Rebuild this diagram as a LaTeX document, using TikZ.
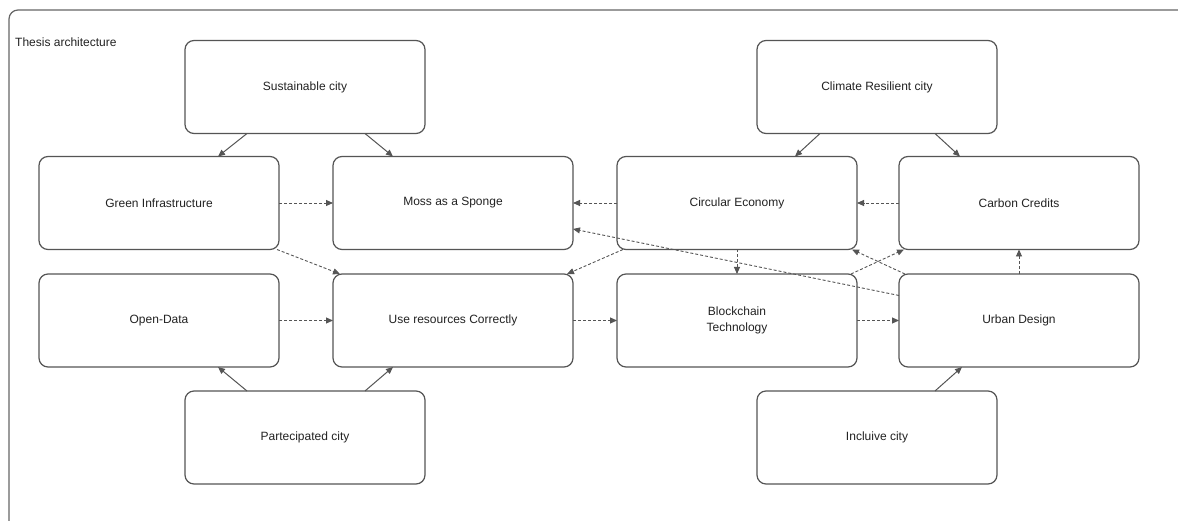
\documentclass[tikz,border=0pt]{standalone}
\usepackage{fontspec}
\setmainfont{Liberation Sans}
\usetikzlibrary{arrows.meta}
\definecolor{edge}{HTML}{555555}
\definecolor{txt}{HTML}{222222}
\definecolor{frame}{HTML}{666666}
\begin{document}
\begin{tikzpicture}[x=1pt,y=-1pt,
  font=\fontsize{12pt}{16pt}\selectfont,
  box/.style={draw=edge, line width=1.2pt, rounded corners=9pt, minimum width=240pt, minimum height=93pt, inner sep=2pt, outer sep=0pt, text=txt, align=center},
  solidarrow/.style={draw=edge, line width=1pt, -{Triangle[length=7pt,width=6pt]}},
  dasharrow/.style={draw=edge, line width=0.9pt, dash pattern=on 3pt off 2pt, -{Triangle[length=7pt,width=6pt]}}
]
\useasboundingbox (0,0) rectangle (1178,521);
\fill[white] (0,0) rectangle (1178,521);
% outer frame (cut off at right and bottom)
\draw[frame, line width=1.2pt, rounded corners=9pt] (9,540) -- (9,10) -- (1200,10);
\node[anchor=west, inner sep=0pt, text=txt] (title) at (15,42) {Thesis architecture};

\node[box] (sus)  at (305,87)    {Sustainable city};
\node[box] (clim) at (877,87)    {Climate Resilient city};
\node[box] (gi)   at (159,203)   {Green Infrastructure};
\node[box] (moss) at (453,203)   {Moss as a Sponge};
\node[box] (circ) at (737,203)   {Circular Economy};
\node[box] (carb) at (1019,203)  {Carbon Credits};
\node[box] (od)   at (159,320.5) {Open-Data};
\node[box] (use)  at (453,320.5) {Use resources Correctly};
\node[box] (bc)   at (737,320.5) {Blockchain\\Technology};
\node[box] (urb)  at (1019,320.5){Urban Design};
\node[box] (part) at (305,437.5) {Partecipated city};
\node[box] (inc)  at (877,437.5) {Incluive city};

% solid arrows
\draw[solidarrow] ([xshift=-58pt]sus.south) -- ([xshift=59pt]gi.north);
\draw[solidarrow] ([xshift=60pt]sus.south) -- ([xshift=-60pt]moss.north);
\draw[solidarrow] ([xshift=-57pt]clim.south) -- ([xshift=58pt]circ.north);
\draw[solidarrow] ([xshift=58pt]clim.south) -- ([xshift=-59pt]carb.north);
\draw[solidarrow] ([xshift=-58pt]part.north) -- ([xshift=59pt]od.south);
\draw[solidarrow] ([xshift=60pt]part.north) -- ([xshift=-60pt]use.south);
\draw[solidarrow] ([xshift=58pt]inc.north) -- ([xshift=-57pt]urb.south);

% dashed arrows
\draw[dasharrow] (gi.east) -- (moss.west);
\draw[dasharrow] (od.east) -- (use.west);
\draw[dasharrow] (use.east) -- (bc.west);
\draw[dasharrow] (bc.east) -- (urb.west);
\draw[dasharrow] (circ.west) -- (moss.east);
\draw[dasharrow] (carb.west) -- (circ.east);
\draw[dasharrow] (circ.south) -- (bc.north);
\draw[dasharrow] (urb.north) -- (carb.south);
\draw[dasharrow] ([xshift=-2pt]gi.south east) -- ([xshift=7pt]use.north west);
\draw[dasharrow] ([xshift=6pt]circ.south west) -- ([xshift=-6pt]use.north east);
\draw[dasharrow] ([yshift=25pt]urb.west) -- ([yshift=-26pt]moss.east);
\draw[dasharrow] ([xshift=6pt]urb.north west) -- ([xshift=-5pt]circ.south east);
\draw[dasharrow] ([xshift=-6pt]bc.north east) -- ([xshift=5pt]carb.south west);
\end{tikzpicture}
\end{document}
